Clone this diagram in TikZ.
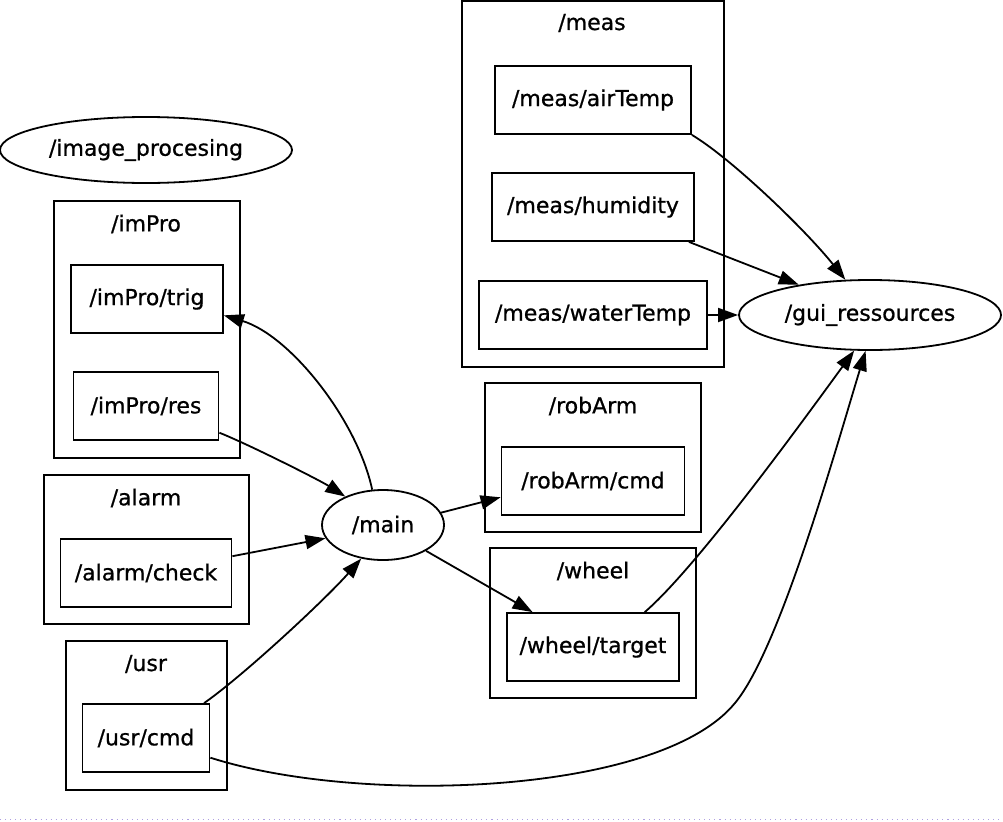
\documentclass[tikz,border=0pt]{standalone}
\usepackage{fontspec}
\setmainfont[FakeBold=0.8]{DejaVu Sans}
\usepackage{tikz}
\usetikzlibrary{shapes,arrows,arrows.meta,positioning,calc}

\tikzset{
  topic/.style={draw, rectangle, inner sep=0pt, minimum height=51pt},
  rosnode/.style={draw, ellipse, inner sep=0pt},
  grp/.style={draw},
}

\begin{document}
\begin{tikzpicture}[>={Triangle[length=15pt,width=10.5pt]}, x=0.75pt, y=-0.75pt, line width=1.35pt]
        \fontsize{16.5}{19}\selectfont
        \useasboundingbox (0,0) rectangle (1003,821);

        % /meas group
        \draw[grp] (462,1) rectangle (724,367);
        \node (measlbl) at (592,23) {/meas};
        \node[topic, minimum width=147pt] (airTemp) at (593,100) {/meas/airTemp};
        \node[topic, minimum width=151.5pt] (humidity) at (593,207) {/meas/humidity};
        \node[topic, minimum width=171pt] (waterTemp) at (593,315) {/meas/waterTemp};

        % gui node
        \node[rosnode, minimum width=196.5pt, minimum height=52.5pt] (gui) at (870,315) {/gui\_ressources};

        % image processing node
        \node[rosnode, minimum width=219pt, minimum height=49.5pt] (improc) at (146,150) {/image\_procesing};

        % /imPro group
        \draw[grp] (54,201) rectangle (240,458);
        \node (improlbl) at (146,224) {/imPro};
        \node[topic, minimum width=114pt] (trig) at (147,299) {/imPro/trig};
        \node[topic, minimum width=108.75pt] (res) at (146,406) {/imPro/res};

        % /alarm group
        \draw[grp] (44,475) rectangle (249,624);
        \node (alarmlbl) at (146,498) {/alarm};
        \node[topic, minimum width=128.25pt] (check) at (146,573) {/alarm/check};

        % /usr group
        \draw[grp] (66,641) rectangle (227,790);
        \node (usrlbl) at (146,664) {/usr};
        \node[topic, minimum width=95.25pt] (usrcmd) at (146,738) {/usr/cmd};

        % main node
        \node[rosnode, minimum width=91.5pt, minimum height=52.5pt] (main) at (383,525) {/main};

        % /robArm group
        \draw[grp] (485,383) rectangle (701,532);
        \node (robarmlbl) at (593,406) {/robArm};
        \node[topic, minimum width=137.25pt] (robcmd) at (593,481) {/robArm/cmd};

        % /wheel group
        \draw[grp] (490,548) rectangle (696,698);
        \node (wheellbl) at (593,571) {/wheel};
        \node[topic, minimum width=129pt] (target) at (593,647) {/wheel/target};

        % Arrows
        % /meas -> gui
        \draw[->] (airTemp.south east) .. controls +(40,24) and +(-40,-50) .. (gui.125);
        \draw[->] (humidity.-20) -- (gui.157);
        \draw[->] (waterTemp.east) -- (gui.west);

        % imPro <-> main
        \draw[->] (res.-20) .. controls +(30,12) and +(-25,-16) .. (main.143);
        \draw[->] (main.107) .. controls +(-15,-70) and +(66,20) .. (trig.-12);

        % alarm, usr -> main
        \draw[->] (check.11) -- (main.193);
        \draw[->] (usrcmd.31) .. controls +(40,-28) and +(-35,40) .. (main.237);

        % main -> robArm, wheel
        \draw[->] (main.12) -- (robcmd.190);
        \draw[->] (main.-31) -- (target.150);

        % wheel, usr -> gui
        \draw[->] (target.34) .. controls +(50,-43) and +(-59,81) .. (gui.246);
        \coordinate (bend) at (735,703);
        \draw[->] (usrcmd.-17) .. controls +(150,48) and +(-75,92) .. (bend)
                  .. controls +(45,-54) and +(-29,95) .. (gui.263);

        % dotted edge at the bottom
        \draw[line width=0.6pt, color={rgb,255:red,175;green,160;blue,225}, dash pattern=on 0.8pt off 3pt] (0,819) -- (1003,819);
    \end{tikzpicture}
\end{document}
